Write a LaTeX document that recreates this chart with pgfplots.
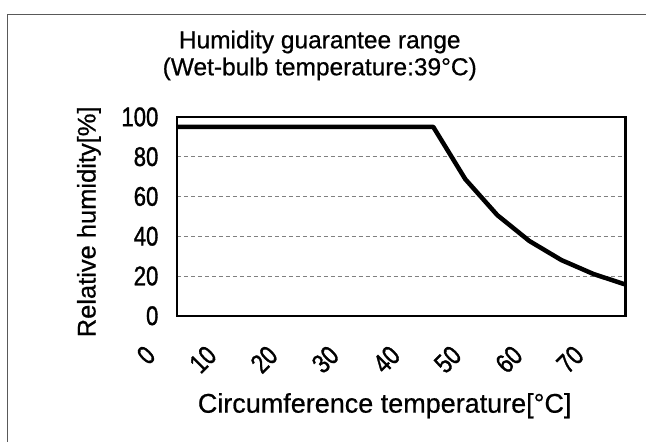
\documentclass[border=0pt]{standalone}
\usepackage{pgfplots}
\pgfplotsset{compat=1.18}
\usepackage{fontspec}
\setmainfont{Liberation Sans}
\newfontfamily\tickfont[FakeStretch=0.82,FakeBold=1.2]{Liberation Sans}
\newfontfamily\labfont[FakeBold=0.6]{Liberation Sans}
\begin{document}
\begin{tikzpicture}
\begin{axis}[
  scale only axis,
  width=449pt, height=199pt,
  xmin=0, xmax=70, ymin=0, ymax=100,
  xtick={0,9.55,19.1,28.65,38.2,47.75,57.3,66.85},
  xticklabels={0,10,20,30,40,50,60,70},
  ytick={0,20,40,60,80,100},
  /pgf/number format/assume math mode=true,
  tick style={draw=none},
  ymajorgrids,
  grid style={dash pattern=on 4pt off 3pt, gray, line width=0.8pt},
  axis line style={line width=2.4pt},
  ticklabel style={font=\fontsize{27}{30}\tickfont},
  yticklabel style={xshift=-15pt},
  xticklabel style={rotate=45, anchor=east, xshift=-40pt, yshift=-6pt},
]
\addplot[black, line width=4.5pt, line join=round] coordinates {
 (0,95) (40,95) (45,68.7) (50,50.6) (55,37.6) (60,28) (65,21) (70,15.7)
};
\end{axis}
\node at (143pt,274pt) {\fontsize{24.5}{28}\labfont Humidity guarantee range};
\node at (143pt,247pt) {\fontsize{24.5}{28}\labfont (Wet-bulb temperature:39°C)};
\node[rotate=90] at (-88pt,94pt) {\fontsize{25.5}{28}\labfont Relative humidity[\%]};
\node at (208pt,-90pt) {\fontsize{27}{30}\labfont Circumference temperature[°C]};
\draw[line width=1pt, gray!70!black] (-169pt,-126pt) -- (-169pt,301pt) -- (469pt,301pt);
\path[use as bounding box] (-177pt,-126pt) rectangle (469pt,316pt);
\end{tikzpicture}
\end{document}
